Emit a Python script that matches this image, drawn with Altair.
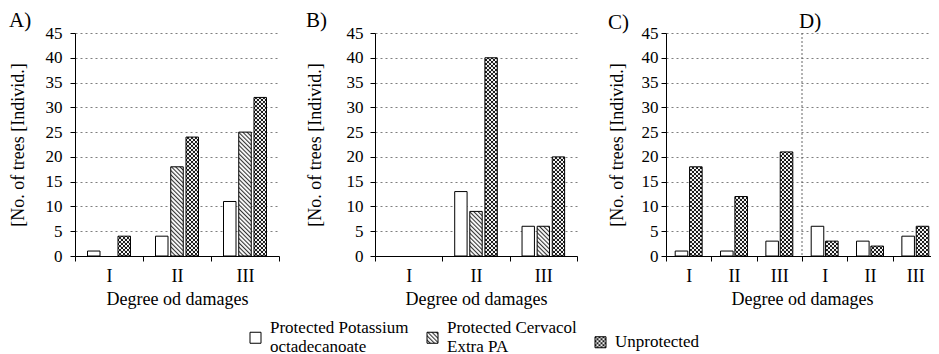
import altair as alt
import pandas as pd
import jinja2

# ---------------- data ----------------
DEGREES = ["I", "II", "III"]
SERIES = ["Protected Potassium|octadecanoate", "Protected Cervacol|Extra PA", "Unprotected"]

A_POTASSIUM = [1, 4, 11]
A_CERVACOL = [0, 18, 25]
A_UNPROTECTED = [4, 24, 32]

B_POTASSIUM = [0, 13, 6]
B_CERVACOL = [0, 9, 6]
B_UNPROTECTED = [0, 40, 20]

C_POTASSIUM = [1, 1, 3]
C_UNPROTECTED = [18, 12, 21]

D_POTASSIUM = [6, 3, 4]
D_UNPROTECTED = [3, 2, 6]

Y_TICKS = [0, 5, 10, 15, 20, 25, 30, 35, 40, 45]
PANEL_LABELS = ["A)", "B)", "C)", "D)"]
X_TITLE = "Degree od damages"
Y_TITLE = "[No. of trees [Individ.]"

FILLS = ["white", "url(#hatch)", "url(#dots)"]
FONT = "Liberation Serif"


def rows(prefix, series_values):
    out = []
    for s, vals in series_values:
        for d, v in zip(DEGREES, vals):
            out.append({"key": prefix + d, "series": s, "value": v})
    return out


df_a = pd.DataFrame(rows("", [(SERIES[0], A_POTASSIUM), (SERIES[1], A_CERVACOL), (SERIES[2], A_UNPROTECTED)]))
df_b = pd.DataFrame(rows("", [(SERIES[0], B_POTASSIUM), (SERIES[1], B_CERVACOL), (SERIES[2], B_UNPROTECTED)]))
df_cd = pd.DataFrame(
    rows("C", [(SERIES[0], C_POTASSIUM), (SERIES[2], C_UNPROTECTED)])
    + rows("D", [(SERIES[0], D_POTASSIUM), (SERIES[2], D_UNPROTECTED)])
)
CD_KEYS = ["C" + d for d in DEGREES] + ["D" + d for d in DEGREES]

legend = alt.Legend(
    title=None,
    orient="none",
    legendX=172,
    legendY=296,
    direction="horizontal",
    symbolType="square",
    symbolSize=121,
    symbolStrokeColor="black",
    symbolStrokeWidth=1,
    labelFont=FONT,
    labelFontSize=17,
    labelColor="black",
    labelOffset=6,
    columnPadding=15,
    labelBaseline={"expr": "indexof(datum.value, '|') >= 0 ? 'line-bottom' : 'middle'"},
    labelExpr="split(datum.label, '|')",
)


def x_enc(xdomain, label_expr, **kw):
    return alt.X(
        "key:N",
        scale=alt.Scale(domain=xdomain, paddingInner=0, paddingOuter=0),
        sort=xdomain,
        title=X_TITLE,
        axis=alt.Axis(labelExpr=label_expr),
        **kw,
    )


def y_axis(lab_pad, title_pad):
    return alt.Axis(values=Y_TICKS, labelPadding=lab_pad, titlePadding=title_pad)


Y_SCALE = alt.Scale(domain=[0, 45], nice=False)


def bars(df, xdomain, odomain, opad_inner, opad_outer, label_expr, lab_pad, title_pad):
    return (
        alt.Chart(df)
        .transform_filter("datum.value > 0")
        .mark_bar(stroke="black", strokeWidth=1)
        .encode(
            x=x_enc(xdomain, label_expr),
            xOffset=alt.XOffset(
                "series:N",
                scale=alt.Scale(domain=odomain, paddingInner=opad_inner, paddingOuter=opad_outer),
            ),
            y=alt.Y("value:Q", scale=Y_SCALE, title=Y_TITLE, axis=y_axis(lab_pad, title_pad)),
            fill=alt.Fill("series:N", scale=alt.Scale(domain=SERIES, range=FILLS), legend=legend),
        )
    )


def title(txt, offset):
    return alt.Title(txt, anchor="start", frame="bounds", fontSize=21, font=FONT,
                     fontWeight="normal", color="black", offset=offset)


chart_a = bars(df_a, DEGREES, SERIES, 0.18, 0.82, "datum.label", 8, 18).properties(
    width=204, height=223, title=title(PANEL_LABELS[0], -7))
chart_b = bars(df_b, DEGREES, SERIES, 0.18, 0.82, "datum.label", 7, 22).properties(
    width=202, height=223, title=title(PANEL_LABELS[1], -7))

CD_LAB = "substring(datum.label, 1)"
bars_cd = bars(df_cd, CD_KEYS, [SERIES[0], SERIES[2]], 0.125, 0.64, CD_LAB, 3, 15)

divider = alt.Chart(pd.DataFrame({"key": [CD_KEYS[3]]})).mark_rule(
    color="#666666", strokeDash=[2, 2], strokeWidth=1
).encode(x=x_enc(CD_KEYS, CD_LAB, bandPosition=0))

d_label = alt.Chart(pd.DataFrame({"key": [CD_KEYS[3]], "label": [PANEL_LABELS[3]]})).mark_text(
    align="left", baseline="bottom", dx=-3, dy=-1, fontSize=21, font=FONT, color="black"
).encode(
    x=x_enc(CD_KEYS, CD_LAB, bandPosition=0),
    y=alt.YDatum(45, scale=Y_SCALE, title=Y_TITLE, axis=y_axis(3, 15)),
    text="label:N",
)

chart_cd = alt.layer(bars_cd, divider, d_label).properties(
    width=272, height=223, title=title(PANEL_LABELS[2], -22))

inner = alt.hconcat(chart_a, chart_b, spacing=26).resolve_scale(xOffset="independent")
chart = (
    alt.hconcat(inner, chart_cd, spacing=30)
    .resolve_scale(color="shared", xOffset="independent")
    .properties(padding={"left": 1, "top": 2, "right": 0, "bottom": 0})
    .configure(font=FONT)
    .configure_view(stroke=None)
    .configure_axis(
        domainColor="black",
        tickColor="black",
        tickSize=5,
        labelColor="black",
        titleColor="black",
        labelFont=FONT,
        titleFont=FONT,
        titleFontWeight="normal",
    )
    .configure_axisX(
        labelAngle=0,
        labelFontSize=18,
        titleFontSize=18,
        tickBand="extent",
        labelPadding=6,
        titlePadding=5,
        grid=False,
    )
    .configure_axisY(
        labelFontSize=17,
        titleFontSize=18,
        grid=True,
        gridDash=[2, 3],
        gridColor="#7f7f7f",
        gridWidth=1,
    )
)

TEMPLATE = jinja2.Template("""<!DOCTYPE html>
<html>
<head>
  <style>
    #{{ output_div }}.vega-embed { width: 100%; display: flex; }
    #{{ output_div }}.vega-embed svg { flex-shrink: 0; }
    #{{ output_div }}.vega-embed details,
    #{{ output_div }}.vega-embed details summary { position: relative; }
  </style>
  <script type="text/javascript" src="{{ base_url }}/vega@{{ vega_version }}"></script>
  <script type="text/javascript" src="{{ base_url }}/vega-lite@{{ vegalite_version }}"></script>
  <script type="text/javascript" src="{{ base_url }}/vega-embed@{{ vegaembed_version }}"></script>
</head>
<body>
  <svg width="0" height="0" style="position:absolute">
    <defs>
      <pattern id="hatch" patternUnits="userSpaceOnUse" width="3" height="3" patternTransform="rotate(-45)">
        <rect width="3" height="3" fill="white"></rect>
        <line x1="0.5" y1="0" x2="0.5" y2="3" stroke="#333333" stroke-width="1.2"></line>
      </pattern>
      <pattern id="dots" patternUnits="userSpaceOnUse" width="4" height="4">
        <rect width="4" height="4" fill="white"></rect>
        <circle cx="1" cy="1" r="1.15" fill="#111"></circle>
        <circle cx="3" cy="3" r="1.15" fill="#111"></circle>
      </pattern>
    </defs>
  </svg>
  <div id="{{ output_div }}"></div>
  <script>
    (function(vegaEmbed) {
      var spec = {{ spec }};
      var embedOpt = {{ embed_options }};
      var el = document.getElementById('{{ output_div }}');
      vegaEmbed("#{{ output_div }}", spec, embedOpt).catch(function(error) {
        el.innerHTML = '<pre>' + error + '</pre>';
        throw error;
      });
    })(vegaEmbed);
  </script>
</body>
</html>
""")

chart.save("out.html", embed_options={"renderer": "svg", "actions": False}, template=TEMPLATE)
